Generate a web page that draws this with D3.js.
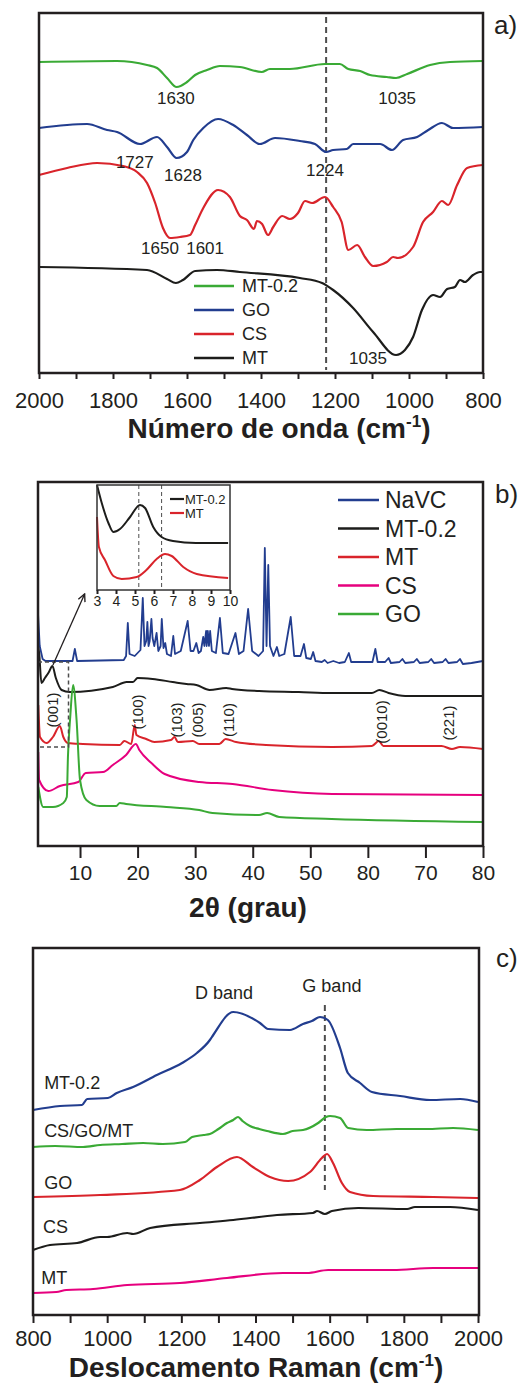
<!DOCTYPE html>
<html>
<head>
<meta charset="utf-8">
<script src="https://cdn.jsdelivr.net/npm/d3@7"></script>
<style>
  body { margin: 0; background: #fff; }
  text { font-family: "Liberation Sans", Arial, sans-serif; fill: #231f20; }
</style>
</head>
<body>
<div id="chart"></div>
<script>
// ---------- a) FTIR : [wavenumber, intensity (a.u.)] ----------
const ftirNames = ['MT-0.2', 'GO', 'CS', 'MT']
const ftirColors = ['#3aaa35', '#223d8f', '#d9242b', '#1d1d1b']
const ftirTicks = [2000, 1800, 1600, 1400, 1200, 1000, 800]
const ftirMT02 = [[2000,311],[1790,312],[1708,308],[1681,305],[1654,295],[1628,286],[1600,291],[1578,298],[1546,303],[1511,307],[1457,306],[1398,301],[1376,304],[1322,304],[1227,309],[1187,309],[1164,304],[1132,302],[1105,298],[1060,296],[1035,295],[1005,299],[943,308],[889,311],[800,312]]
const ftirGO = [[2000,245],[1870,249],[1816,243],[1789,241],[1727,229],[1681,236],[1654,226],[1628,215],[1600,221],[1583,233],[1556,245],[1516,254],[1475,248],[1438,238],[1403,229],[1362,235],[1295,232],[1254,229],[1224,221],[1205,223],[1168,224],[1151,229],[1078,229],[1046,223],[1016,233],[978,236],[948,243],[911,250],[881,245],[800,246]]
const ftirCS = [[2000,198],[1924,205],[1843,210],[1773,207],[1735,201],[1708,190],[1686,170],[1665,145],[1646,135],[1619,136],[1592,138],[1578,148],[1556,165],[1516,183],[1484,176],[1457,157],[1438,153],[1419,144],[1411,152],[1397,149],[1381,138],[1367,146],[1343,157],[1322,154],[1300,160],[1281,172],[1262,170],[1227,176],[1205,166],[1182,151],[1164,123],[1140,128],[1119,116],[1097,107],[1060,111],[1043,116],[1030,115],[989,126],[962,151],[935,161],[911,172],[894,168],[870,188],[843,205],[800,208]]
const ftirMT = [[2000,106],[1708,103],[1654,94],[1630,90],[1611,93],[1578,102],[1519,103],[1457,101],[1295,95],[1235,90],[1205,83],[1151,65],[1097,41],[1035,18],[1011,23],[989,36],[965,63],[935,78],[916,76],[897,84],[876,86],[862,93],[849,91],[827,98],[808,101],[800,101]]
const ftirMarks = [['1630',1630,275],['1035',1032,275],['1727',1741,211],['1628',1611,198],['1224',1227,203],['1650',1673,125],['1601',1551,125],['1035',1111,15]]
const ftirRef = 1224

// ---------- b) XRD : [2theta, intensity (a.u.)] ----------
const xrdNames = ['NaVC', 'MT-0.2', 'MT', 'CS', 'GO']
const xrdColors = ['#223d8f', '#1d1d1b', '#d9242b', '#e6007e', '#3aaa35']
const xrdTicks = [10, 20, 30, 40, 50, 60, 70, 80]
const xrdTickLabels = ['10', '20', '30', '40', '50', '80', '70', '80']
const xrdNaVC = [[2.7,233],[3.0,200],[3.5,187],[4,185],[8.7,185],[9.1,197],[9.5,185],[17.6,186],[18.0,190],[18.3,223],[18.6,192],[19.5,190],[20.5,196],[20.9,248],[21.2,200],[21.5,205],[21.7,224],[21.9,200],[22.1,205],[22.4,227],[22.6,208],[22.9,200],[23.3,213],[23.6,195],[24.0,200],[24.2,227],[24.5,198],[24.8,203],[25.1,192],[25.8,190],[26.2,210],[26.5,192],[27.5,195],[28.7,225],[29.2,195],[29.7,195],[30.2,203],[30.6,193],[31.0,195],[31.4,209],[31.6,200],[31.9,215],[32.0,200],[32.2,215],[32.4,200],[32.6,215],[32.9,195],[33.6,193],[34.3,228],[34.8,193],[35.8,192],[37.0,213],[37.6,192],[38.4,195],[39.2,237],[39.9,195],[41.0,190],[41.8,195],[42.1,298],[42.4,200],[42.7,281],[43.0,200],[43.6,190],[44.2,199],[44.6,190],[45.5,192],[46.6,229],[47.2,190],[48.3,190],[48.9,202],[49.3,188],[50.1,187],[50.5,194],[50.9,185],[52,184],[52.5,186],[53,183],[54,185],[55,183],[56,184],[56.7,193],[57.1,184],[60.8,184],[61.3,197],[61.7,184],[63,184],[63.6,188],[64,183],[65.5,184],[66,187],[66.5,183],[68,184],[68.5,187],[69,183],[70.5,184],[71,187],[71.5,183],[73,184],[73.5,187],[74,183],[75.5,184],[76,187],[76.5,182],[78,183],[80,185]]
const xrdMT02 = [[2.7,200],[2.9,193],[3.3,163],[3.9,168],[4.6,174],[5.2,180],[5.8,168],[6.8,156],[8.2,154],[15.7,159],[18.1,164],[19.2,164],[20.0,168],[22.6,167],[26.1,164],[28.5,162],[30.2,161],[32.5,156],[35.4,158],[36.4,157],[41.1,155],[48.0,154],[53.7,153],[60.7,153],[62.0,156],[63.6,153],[66.5,150],[80,150]]
const xrdMT = [[2.75,141],[3.05,109],[4.2,103],[5.3,109],[6.5,120],[7.1,109],[7.9,103],[10.5,102],[16.9,101],[17.7,105],[18.9,102],[19.5,121],[19.8,111],[21.5,107],[22.9,104],[25.8,106],[26.4,109],[27.0,104],[29.6,105],[30.7,102],[34.2,102],[35.3,107],[37.1,104],[42.3,101],[53.8,99],[60.7,100],[61.9,105],[62.7,100],[72.8,100],[74.6,97],[76.0,99],[80,97]]
const xrdCS = [[2.75,94],[2.9,66],[4.5,55],[6.5,60],[9.7,64],[11.0,73],[14.0,74],[15.7,81],[18.0,91],[19.7,102],[20.3,96],[22.4,83],[24.7,72],[30.7,64],[36.5,62],[43.4,56],[53.8,52],[80,51]]
const xrdGO = [[2.75,59],[3.6,39],[5.3,39],[7.1,43],[7.7,49],[7.9,89],[8.3,129],[8.8,161],[9.4,126],[10.0,66],[11.1,46],[13.4,40],[16.3,40],[16.9,43],[18.0,42],[25.0,39],[30.7,36],[33.0,33],[41.1,31],[42.5,33],[44.6,29],[53.7,27],[80,24]]
const xrdPlanes = [['(001)',5.3,136],['(100)',20.0,134],['(103)',26.75,126],['(005)',30.4,126],['(110)',35.9,126],['(0010)',62.4,124],['(221)',74.0,123]]

// inset (2theta 3-10)
const insetNames = ['MT-0.2', 'MT']
const insetColors = ['#1d1d1b', '#d9242b']
const insetTicks = [3, 4, 5, 6, 7, 8, 9, 10]
const insetMT02 = [[3.0,105],[3.25,87],[3.6,67],[3.86,58],[4.21,61],[4.74,73],[5.26,85],[5.53,82],[5.96,63],[6.4,53],[7.0,49],[8.2,47],[9.9,47]]
const insetMT = [[3.0,73],[3.1,43],[3.42,30],[3.86,14],[4.3,11],[5.09,13],[5.6,20],[6.14,31],[6.58,36],[6.93,34],[7.54,23],[8.25,16],[9.9,12]]
const insetRefs = [5.2, 6.4]

// ---------- c) Raman : [shift, intensity (a.u.)] ----------
const ramanNames = ['MT-0.2', 'CS/GO/MT', 'GO', 'CS', 'MT']
const ramanColors = ['#223d8f', '#3aaa35', '#d9242b', '#1d1d1b', '#e6007e']
const ramanTicks = [800, 1000, 1200, 1400, 1600, 1800, 2000]
const ramanMT02 = [[800,205],[873,209],[932,210],[946,216],[1002,217],[1026,222],[1070,228],[1134,240],[1202,252],[1242,262],[1277,275],[1286,280],[1340,303],[1412,292],[1434,286],[1493,285],[1528,291],[1552,294],[1574,298],[1595,295],[1628,267],[1649,242],[1682,232],[1714,223],[1790,219],[1871,215],[1952,216],[2000,213]]
const ramanCGM = [[800,168],[860,169],[935,168],[981,170],[1040,171],[1097,172],[1150,171],[1210,173],[1229,178],[1260,180],[1277,181],[1300,186],[1323,192],[1340,195],[1353,198],[1365,194],[1385,189],[1410,186],[1431,184],[1474,181],[1500,184],[1528,185],[1569,192],[1590,198],[1601,199],[1628,197],[1650,187],[1700,185],[1780,186],[1862,186],[1933,187],[2000,185]]
const ramanGO = [[800,118],[981,120],[1196,125],[1250,135],[1296,148],[1350,158],[1393,148],[1439,138],[1488,134],[1547,143],[1579,157],[1593,161],[1609,152],[1633,132],[1655,123],[1717,119],[1879,118],[2000,117]]
const ramanCS = [[800,65],[846,70],[919,72],[981,78],[1000,78],[1054,82],[1070,81],[1116,87],[1250,92],[1340,95],[1458,100],[1555,102],[1566,104],[1587,101],[1606,104],[1677,107],[1809,106],[1830,108],[1925,108],[2000,105]]
const ramanMT = [[800,22],[863,23],[890,25],[962,26],[1054,30],[1196,32],[1323,37],[1474,42],[1539,42],[1596,45],[1771,45],[1879,47],[2000,47]]
const ramanBands = [['D band',1315,322],['G band',1606,329]]
const ramanRef = 1587

// ---------------------------------------------------------
const W = 528, H = 1385
const ink = '#231f20'
const svg = d3.select('#chart').append('svg').attr('width', W).attr('height', H)

function drawLine(g, data, x, y, color, width, curve) {
  g.append('path')
    .datum(data)
    .attr('fill', 'none')
    .attr('stroke', color)
    .attr('stroke-width', width)
    .attr('stroke-linejoin', 'round')
    .attr('d', d3.line().x(d => x(d[0])).y(d => y(d[1])).curve(curve || d3.curveLinear))
}

function frame(g, x0, y0, x1, y1, sw) {
  g.append('rect').attr('x', x0).attr('y', y0).attr('width', x1 - x0).attr('height', y1 - y0)
    .attr('fill', 'none').attr('stroke', ink).attr('stroke-width', sw)
}

function bottomAxis(g, x, y0, ticks, minor, size, pad, fs, labels) {
  const ax = g.append('g').attr('transform', `translate(0,${y0})`)
  if (minor) {
    ax.call(d3.axisBottom(x).tickValues(minor).tickSize(size).tickFormat(''))
    ax.select('.domain').remove()
  }
  const ax2 = g.append('g').attr('transform', `translate(0,${y0})`)
    .call(d3.axisBottom(x).tickValues(ticks).tickSize(size).tickPadding(pad)
      .tickFormat((d, i) => labels ? labels[i] : d))
  ax2.select('.domain').remove()
  g.selectAll('.tick line').attr('stroke', ink).attr('stroke-width', 2)
  ax2.selectAll('text').attr('font-size', fs).attr('fill', ink)
    .style('font-family', '"Liberation Sans", Arial, sans-serif')
}

function axisTitle(g, cx, y, main) {
  const t = g.append('text').attr('x', cx).attr('y', y).attr('text-anchor', 'middle')
    .attr('font-size', 28).attr('font-weight', 'bold')
  t.append('tspan').text(main)
  if (main.endsWith('(cm')) {
    t.append('tspan').attr('font-size', 17).attr('dy', -11).text('-1')
    t.append('tspan').attr('dy', 11).text(')')
  }
}

function panelLabel(x, y, s) {
  svg.append('text').attr('x', x).attr('y', y).attr('font-size', 26).text(s)
}

// ================= a) FTIR =================
{
  const L = 39, R = 483, T = 13, B = 373
  const g = svg.append('g')
  const x = d3.scaleLinear().domain([2000, 800]).range([L, R])
  const y = d3.scaleLinear().domain([0, 360]).range([B, T])

  g.append('line').attr('x1', x(ftirRef)).attr('x2', x(ftirRef)).attr('y1', T + 4).attr('y2', B - 3)
    .attr('stroke', '#4d4d4d').attr('stroke-width', 2).attr('stroke-dasharray', '6,4')

  const series = [ftirMT02, ftirGO, ftirCS, ftirMT]
  series.forEach((s, i) => drawLine(g, s, x, y, ftirColors[i], 2.2, d3.curveMonotoneX))

  ftirMarks.forEach(m => {
    g.append('text').attr('x', x(m[1])).attr('y', y(m[2])).attr('dy', '0.35em')
      .attr('text-anchor', 'middle').attr('font-size', 17).text(m[0])
  })

  // legend
  ftirNames.forEach((n, i) => {
    const ly = 286 + i * 24
    g.append('line').attr('x1', 194).attr('x2', 234).attr('y1', ly).attr('y2', ly)
      .attr('stroke', ftirColors[i]).attr('stroke-width', 2.5)
    g.append('text').attr('x', 242).attr('y', ly).attr('dy', '0.35em').attr('font-size', 18).text(n)
  })

  frame(g, L, T, R, B, 2.5)
  bottomAxis(g, x, B, ftirTicks, d3.range(1900, 800, -200), 6, 13, 22)
  axisTitle(g, (L + R) / 2 + 18, 438, 'Número de onda (cm')
  panelLabel(494, 34, 'a)')
}

// ================= b) XRD =================
{
  const L = 38, R = 483, T = 482, B = 846
  const g = svg.append('g')
  const x = d3.scaleLinear().domain([2.7, 80]).range([L, R])
  const y = d3.scaleLinear().domain([0, 364]).range([B, T])

  const series = [xrdNaVC, xrdMT02, xrdMT, xrdCS, xrdGO]
  series.forEach((s, i) => drawLine(g, s, x, y, xrdColors[i], i === 0 ? 1.8 : 2, i === 0 ? d3.curveLinear : d3.curveMonotoneX))

  // dashed zoom box
  g.append('rect').attr('x', x(2.7)).attr('y', y(184)).attr('width', x(8) - x(2.7)).attr('height', y(99) - y(184))
    .attr('fill', 'none').attr('stroke', '#4d4d4d').attr('stroke-width', 1.5).attr('stroke-dasharray', '4,3')

  xrdPlanes.forEach(p => {
    g.append('text').attr('transform', `translate(${x(p[1])},${y(p[2])}) rotate(-90)`)
      .attr('text-anchor', 'middle').attr('dy', '0.35em').attr('font-size', 15).text(p[0])
  })

  // arrow to inset
  const defs = svg.append('defs')
  defs.append('marker').attr('id', 'arr').attr('viewBox', '0 0 10 10').attr('refX', 9).attr('refY', 5)
    .attr('markerWidth', 7).attr('markerHeight', 7).attr('orient', 'auto')
    .append('path').attr('d', 'M1,1 L9,5 L1,9').attr('fill', 'none').attr('stroke', ink).attr('stroke-width', 1.5)
  g.append('line').attr('x1', x(5.3)).attr('y1', y(181)).attr('x2', x(10.8)).attr('y2', y(252))
    .attr('stroke', ink).attr('stroke-width', 1.3).attr('marker-end', 'url(#arr)')

  // legend
  xrdNames.forEach((n, i) => {
    const ly = 500 + i * 28.5
    g.append('line').attr('x1', 338).attr('x2', 379).attr('y1', ly).attr('y2', ly)
      .attr('stroke', xrdColors[i]).attr('stroke-width', 2.5)
    g.append('text').attr('x', 385).attr('y', ly).attr('dy', '0.35em').attr('font-size', 23).text(n)
  })

  // inset
  const iL = 97, iR = 230, iT = 485, iB = 590
  const ix = d3.scaleLinear().domain([3, 10]).range([iL, iR])
  const iy = d3.scaleLinear().domain([0, 105]).range([iB, iT])
  const gi = g.append('g')
  gi.append('rect').attr('x', iL).attr('y', iT).attr('width', iR - iL).attr('height', iB - iT).attr('fill', '#fff')
  insetRefs.forEach(r => {
    gi.append('line').attr('x1', ix(r)).attr('x2', ix(r)).attr('y1', iT).attr('y2', iB)
      .attr('stroke', '#4d4d4d').attr('stroke-width', 1).attr('stroke-dasharray', '4,3')
  })
  drawLine(gi, insetMT02, ix, iy, insetColors[0], 2, d3.curveMonotoneX)
  drawLine(gi, insetMT, ix, iy, insetColors[1], 2, d3.curveMonotoneX)
  insetNames.forEach((n, i) => {
    const ly = 499 + i * 14
    gi.append('line').attr('x1', 170).attr('x2', 184).attr('y1', ly).attr('y2', ly)
      .attr('stroke', insetColors[i]).attr('stroke-width', 2.2)
    gi.append('text').attr('x', 185).attr('y', ly).attr('dy', '0.35em').attr('font-size', 13).text(n)
  })
  gi.append('rect').attr('x', iL).attr('y', iT).attr('width', iR - iL).attr('height', iB - iT)
    .attr('fill', 'none').attr('stroke', '#333').attr('stroke-width', 1.5)
  const iax = gi.append('g').attr('transform', `translate(0,${iB})`)
    .call(d3.axisBottom(ix).tickValues(insetTicks).tickSize(4).tickPadding(2).tickFormat(d3.format('d')))
  iax.select('.domain').remove()
  iax.selectAll('line').attr('stroke', '#333').attr('stroke-width', 1.3)
  iax.selectAll('text').attr('font-size', 14).attr('fill', ink)
    .style('font-family', '"Liberation Sans", Arial, sans-serif')

  frame(g, L, T, R, B, 2.5)
  bottomAxis(g, x, B, xrdTicks, null, 12, 7, 21, xrdTickLabels)
  axisTitle(g, 248, 917, '2θ (grau)')
  panelLabel(495, 503, 'b)')
}

// ================= c) Raman =================
{
  const L = 33, R = 479, T = 948, B = 1315
  const g = svg.append('g')
  const x = d3.scaleLinear().domain([800, 2000]).range([L, R - 1])
  const y = d3.scaleLinear().domain([0, 367]).range([B, T])

  g.append('line').attr('x1', x(ramanRef)).attr('x2', x(ramanRef)).attr('y1', y(310)).attr('y2', y(125))
    .attr('stroke', '#4d4d4d').attr('stroke-width', 2).attr('stroke-dasharray', '6,4')

  const series = [ramanMT02, ramanCGM, ramanGO, ramanCS, ramanMT]
  series.forEach((s, i) => drawLine(g, s, x, y, ramanColors[i], 2.2, d3.curveMonotoneX))

  const labelPos = [[830, 232], [830, 184], [830, 132], [827, 88], [822, 37]]
  ramanNames.forEach((n, i) => {
    g.append('text').attr('x', x(labelPos[i][0])).attr('y', y(labelPos[i][1])).attr('dy', '0.35em')
      .attr('font-size', 18).text(n)
  })
  ramanBands.forEach(b => {
    g.append('text').attr('x', x(b[1])).attr('y', y(b[2])).attr('dy', '0.35em')
      .attr('text-anchor', 'middle').attr('font-size', 18).text(b[0])
  })

  frame(g, L, T, R, B, 2.5)
  bottomAxis(g, x, B, ramanTicks, d3.range(900, 2000, 200), 8, 7, 22)
  axisTitle(g, 256, 1377, 'Deslocamento Raman (cm')
  panelLabel(496, 967, 'c)')
}
</script>
</body>
</html>
